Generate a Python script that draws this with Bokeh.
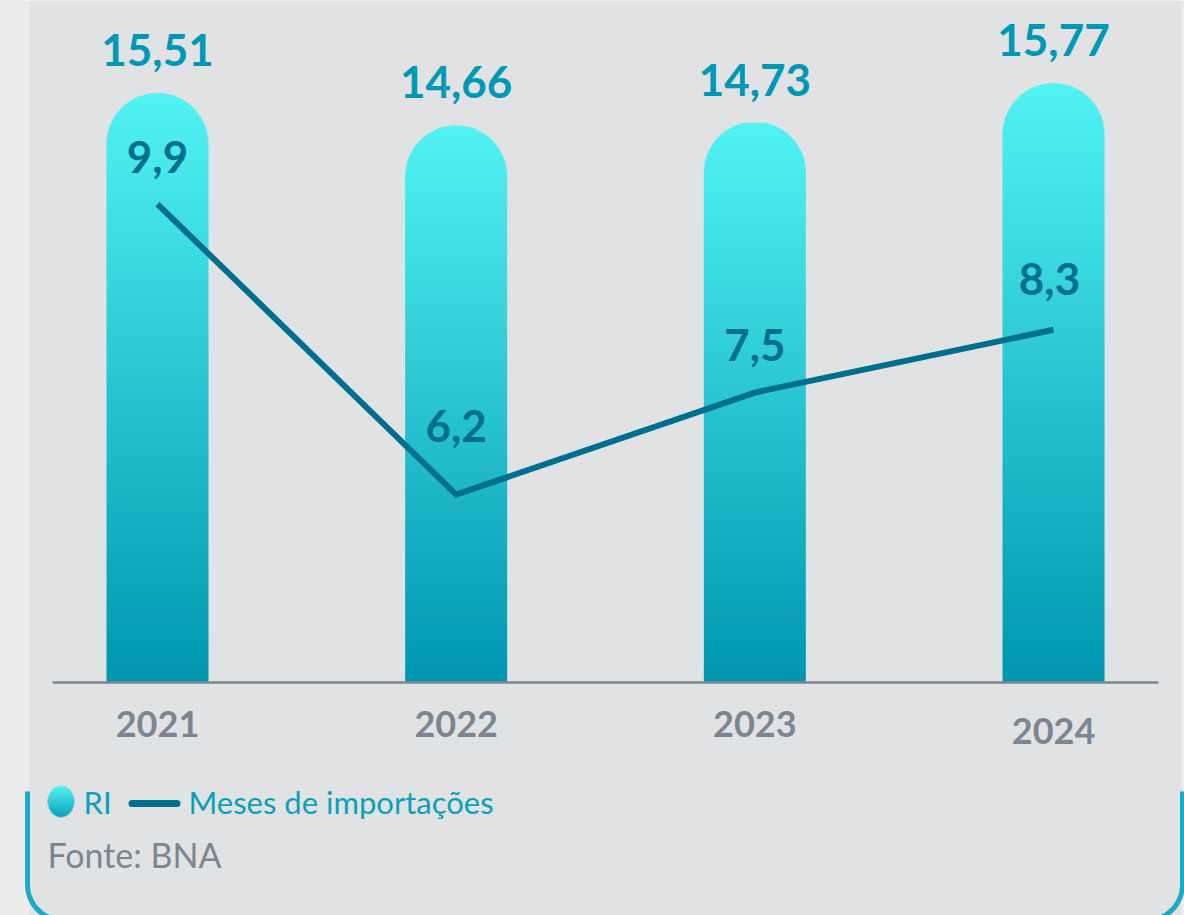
import numpy as np
from bokeh.plotting import figure
from bokeh.models import Range1d, BoxAnnotation
from bokeh.core.properties import value
from bokeh.embed import file_html
from bokeh.resources import INLINE

# ---------------- data ----------------
years = ["2021", "2022", "2023", "2024"]
ri_values = [15.51, 14.66, 14.73, 15.77]          # RI (bars)
months_import = [9.9, 6.2, 7.5, 8.3]                # Meses de importações (line)
ri_labels = [f"{v:.2f}".replace(".", ",") for v in ri_values]
month_labels = [f"{v:.1f}".replace(".", ",") for v in months_import]
legend_ri = "RI"
legend_months = "Meses de importações"
source_note = "Fonte: BNA"

# ---------------- style / layout ----------------
W, H = 1184, 915
XPX, X0 = 298.67, 157.0      # px per category step, px of first category
YPX, Y0 = 38.0, 682.0        # px per RI unit, px (from top) of RI = 0
MPX, M0 = 78.5, 980.8        # px per month unit, px (from top) of month = 0

PANEL = "#e1e2e4"
STRIP = "#ececec"
VAL_COL = "#0099b5"
LINE_COL = "#006f8d"
GREY = "#7b8690"
LEG_TXT = "#0ca0ba"
BORDER = "#19abc5"
BAR_TOP = (0x52, 0xF3, 0xF3)
BAR_BOT = (0x00, 0x96, 0xB1)
FONT = value("Lato")

def dx(px):
    return (px - X0) / XPX

def dy(py):
    return (Y0 - py) / YPX

idx = list(range(len(years)))

p = figure(width=W, height=H,
           x_range=Range1d(dx(0), dx(W)),
           y_range=Range1d(dy(H), dy(0)),
           x_axis_type=None, y_axis_type=None,
           output_backend="svg", toolbar_location=None,
           min_border=0, outline_line_color=None,
           background_fill_color=PANEL, border_fill_color=PANEL)
p.extra_y_ranges = {"months": Range1d((M0 - H) / MPX, M0 / MPX)}
p.xgrid.visible = False
p.ygrid.visible = False

# left / right light strips
p.add_layout(BoxAnnotation(right=dx(29), fill_color=STRIP, fill_alpha=1, line_alpha=0, level="underlay"))
p.add_layout(BoxAnnotation(left=dx(1181), fill_color=STRIP, fill_alpha=1, line_alpha=0, level="underlay"))

# rounded bottom border (decoration)
r = 36.0
bl, br, bb, bt = 27.0, 1182.0, 920.0, 791.0
xs, ys = [bl], [bt]
th = np.linspace(np.pi, 1.5 * np.pi, 30)
xs += list(bl + r + r * np.cos(th)); ys += list(bb - r - r * np.sin(th))
th = np.linspace(1.5 * np.pi, 2 * np.pi, 30)
xs += list(br - r + r * np.cos(th)); ys += list(bb - r - r * np.sin(th))
xs += [br]; ys += [bt]
p.line([dx(v) for v in xs], [dy(v) for v in ys], line_color=BORDER, line_width=5)

# ---------------- bars (gradient, rounded top) ----------------
BAR_PX = 102
bw = BAR_PX / XPX

def bar_image(h_px, w_px, top, bot):
    h_px = max(int(round(h_px)), 2)
    rad = w_px / 2.0
    jj, ii = np.mgrid[0:h_px, 0:w_px]
    t = jj / (h_px - 1.0)
    img = np.zeros((h_px, w_px), dtype=np.uint32)
    v = img.view(dtype=np.uint8).reshape((h_px, w_px, 4))
    for c in range(3):
        v[..., c] = np.round(bot[c] + (top[c] - bot[c]) * t).astype(np.uint8)
    cy = h_px - rad
    dist = np.sqrt((ii + 0.5 - rad) ** 2 + (jj + 0.5 - cy) ** 2)
    alpha = np.where(jj + 0.5 > cy, np.clip(rad - dist + 0.5, 0, 1), 1.0)
    v[..., 3] = np.round(alpha * 255).astype(np.uint8)
    return img

imgs = [bar_image(val * YPX, BAR_PX, BAR_TOP, BAR_BOT) for val in ri_values]
p.image_rgba(image=imgs, x=[i - bw / 2 for i in idx], y=[0] * len(idx),
             dw=[bw] * len(idx), dh=ri_values)

# axis baseline
p.segment(x0=[idx[0] - 0.3516], x1=[idx[-1] + 0.3516], y0=[0], y1=[0],
          line_color=GREY, line_width=2.5)

# year labels
p.text(x=idx, y=[0] * len(idx), text=years, y_offset=[41, 41, 41, 48],
       text_font=FONT, text_font_style="bold", text_font_size="36px",
       text_color=GREY, text_align="center", text_baseline="alphabetic")

# RI value labels
p.text(x=idx, y=ri_values, text=ri_labels, y_offset=-43,
       text_font=FONT, text_font_style="bold", text_font_size="44px",
       text_color=VAL_COL, text_align="center", text_baseline="alphabetic")

# ---------------- line ----------------
p.line(x=idx, y=months_import, y_range_name="months",
       line_color=LINE_COL, line_width=6, line_join="miter")
p.text(x=idx, y=months_import, text=month_labels, y_range_name="months",
       y_offset=[-47, -69, -48, -51], x_offset=[0, 0, 0, -4],
       text_font=FONT, text_font_style="bold", text_font_size="44px",
       text_color=LINE_COL, text_align="center", text_baseline="alphabetic")

# ---------------- legend (manual) ----------------
hh, ww = 32, 27
leg_img = bar_image(hh, ww, BAR_TOP, (0x0A, 0xA2, 0xBB))
jj, ii = np.mgrid[0:hh, 0:ww]
ell = ((ii + 0.5 - ww / 2) / (ww / 2)) ** 2 + ((jj + 0.5 - hh / 2) / (hh / 2)) ** 2
lv = leg_img.view(dtype=np.uint8).reshape((hh, ww, 4))
lv[..., 3] = np.round(np.clip((1 - ell) * 14, 0, 1) * 255).astype(np.uint8)
p.image_rgba(image=[leg_img], x=[dx(47)], y=[dy(817)], dw=[ww / XPX], dh=[hh / YPX])

p.text(x=[dx(83)], y=[dy(801)], text=[legend_ri], text_font=FONT,
       text_font_size="31px", text_color=LEG_TXT, text_baseline="alphabetic")
p.line([dx(131.5), dx(176.5)], [dy(803), dy(803)], line_color=LINE_COL,
       line_width=7, line_cap="round")
p.text(x=[dx(188)], y=[dy(801)], text=[legend_months], text_font=FONT,
       text_font_size="31px", text_color=LEG_TXT, text_baseline="alphabetic")
p.text(x=[dx(47)], y=[dy(854)], text=[source_note], text_font=FONT,
       text_font_size="34px", text_color=GREY, text_baseline="alphabetic")

open("out.html", "w").write(file_html(p, INLINE))
